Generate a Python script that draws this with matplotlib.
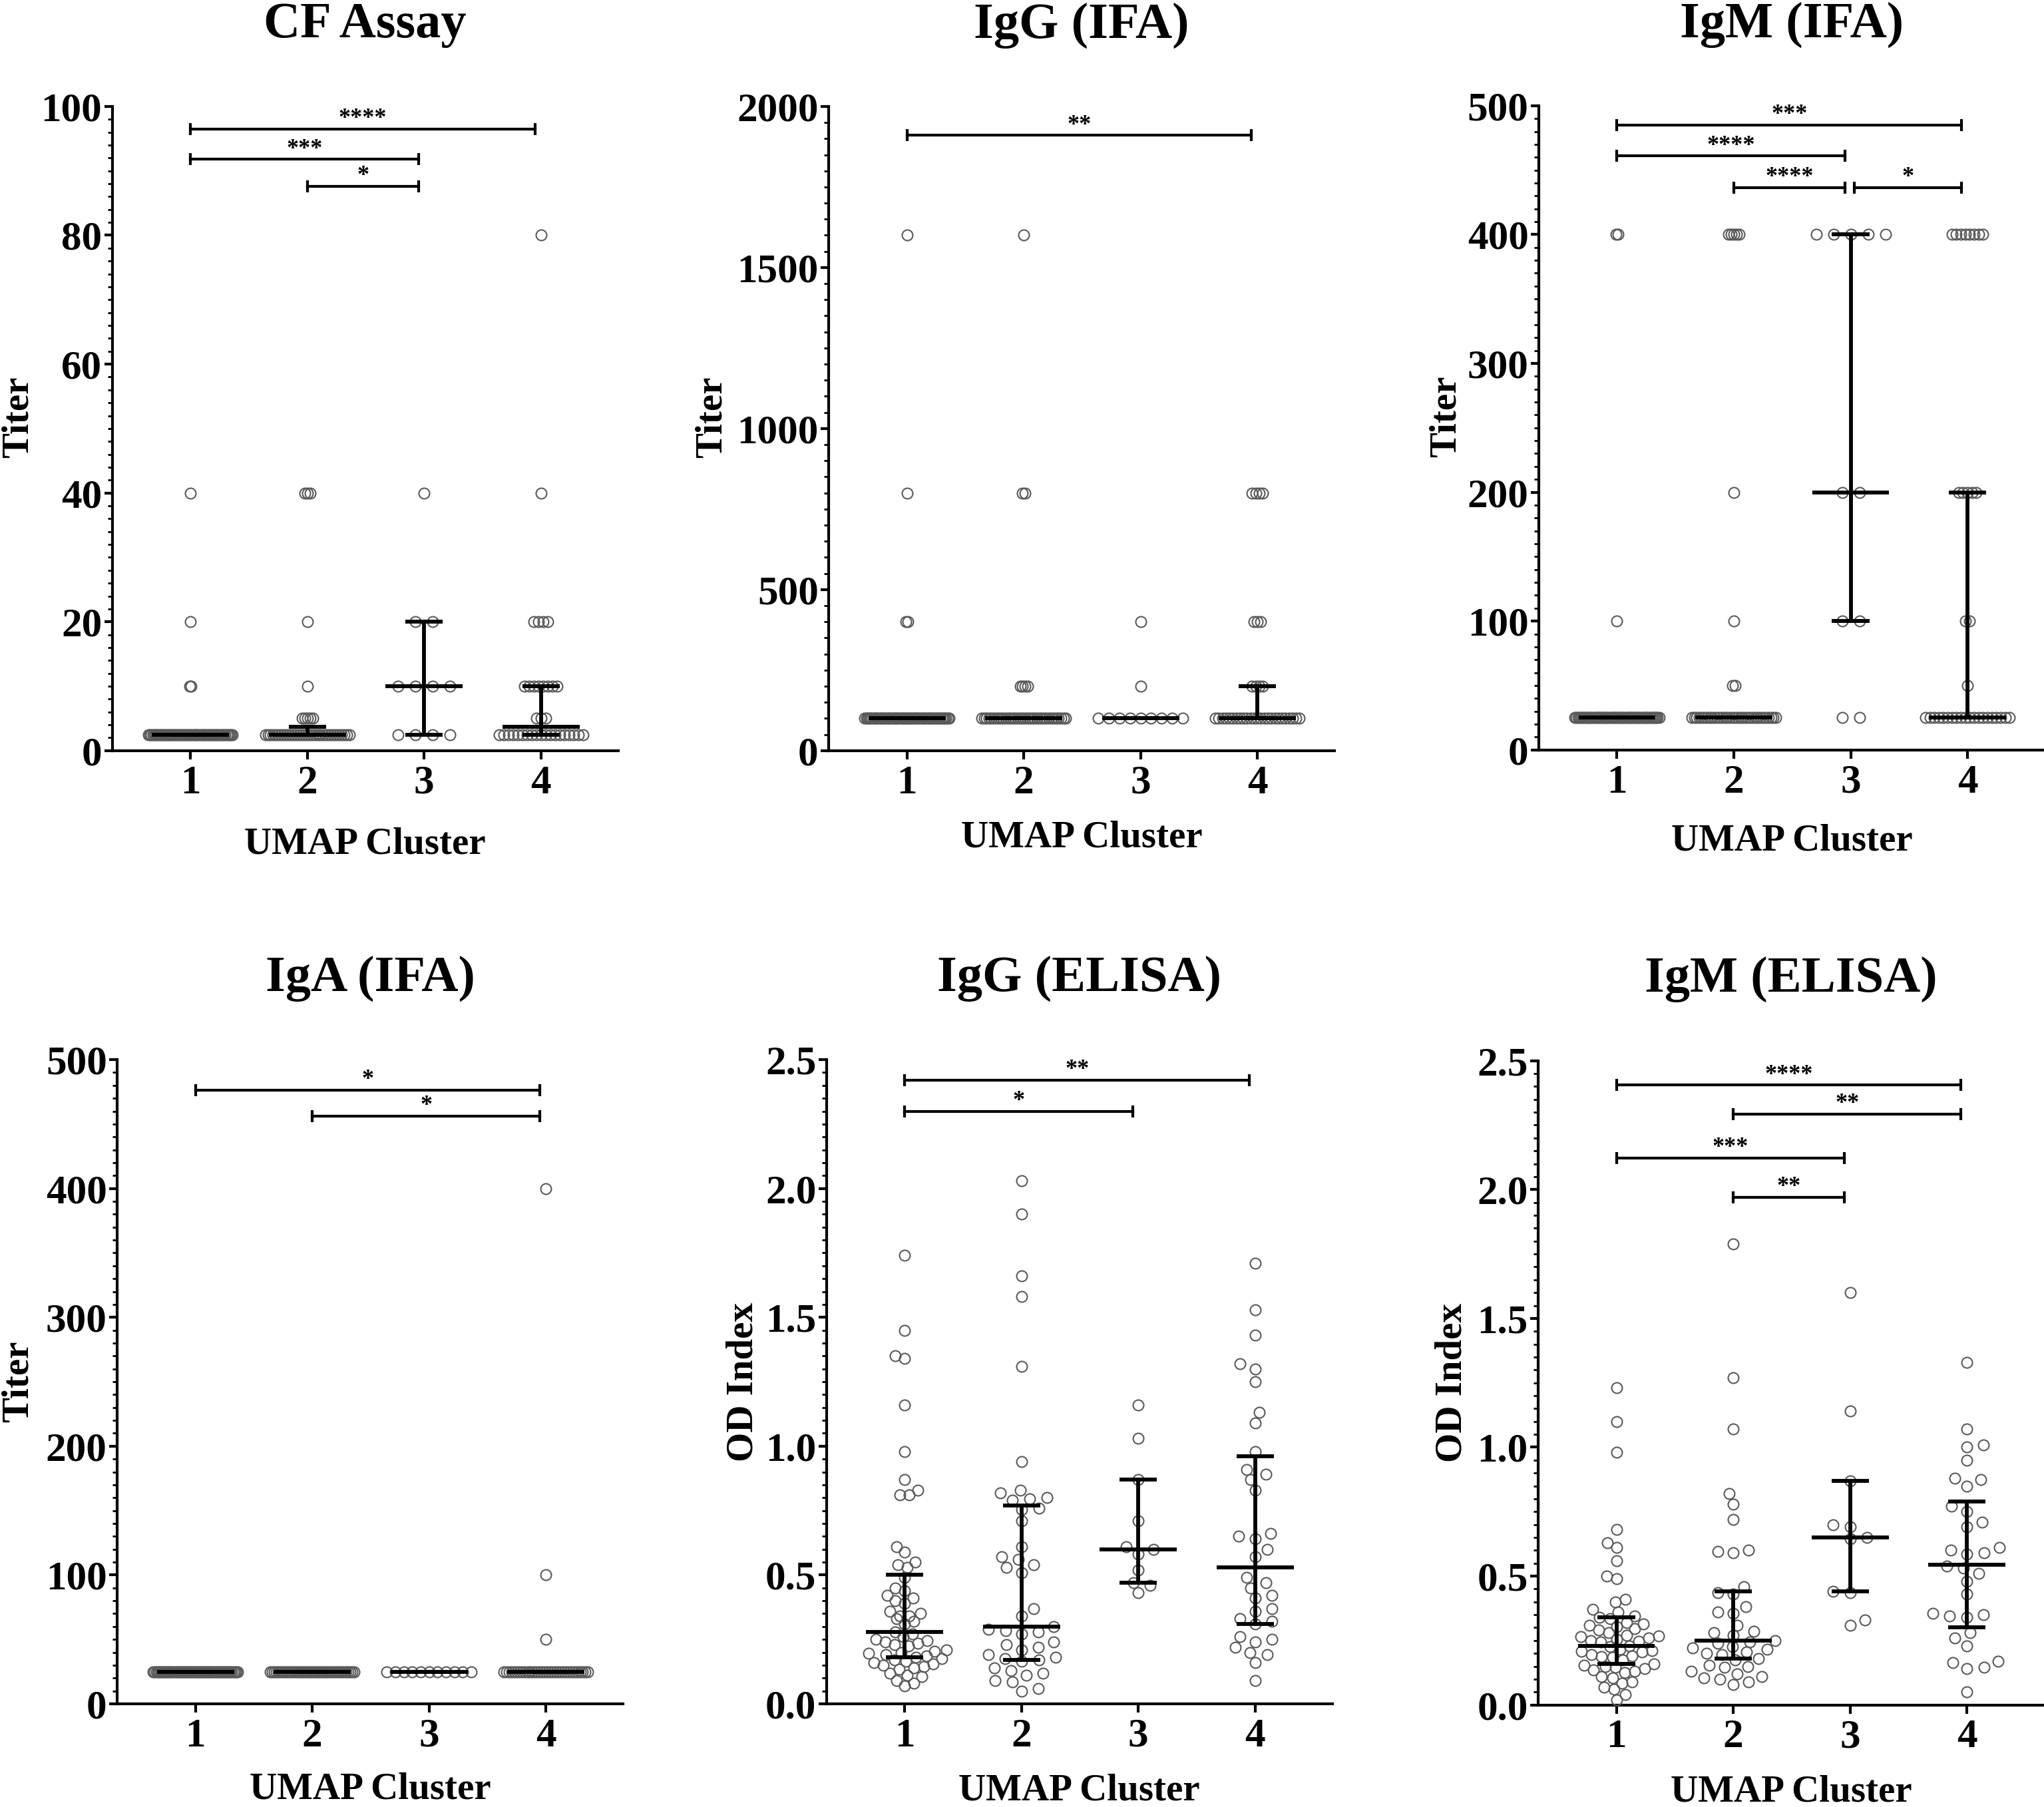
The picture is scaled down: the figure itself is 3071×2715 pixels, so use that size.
import numpy as np
import matplotlib
matplotlib.use("Agg")
import matplotlib.pyplot as plt
from matplotlib.ticker import MultipleLocator, AutoMinorLocator, FormatStrFormatter

plt.rcParams['font.family'] = ['Liberation Serif', 'DejaVu Serif']
plt.rcParams['font.weight'] = 'bold'

clusters = [1, 2, 3, 4]

# ---- CF assay (titer) ----
cf_c1 = [2.5] * 58 + [10, 10, 20, 40]
cf_c2 = [2.5] * 33 + [5] * 5 + [10, 20] + [40] * 3
cf_c3 = [2.5] * 4 + [10] * 4 + [20] * 2 + [40]
cf_c4 = [2.5] * 19 + [5] * 3 + [10] * 8 + [20] * 4 + [40, 80]
cf_median = [2.5, 2.5, 10, 3.75]
cf_q1 = [2.5, 2.5, 2.5, 2.5]
cf_q3 = [2.5, 3.75, 20, 10]
cf_sig = [(1, 4, "****", 96.5), (1, 3, "***", 91.8), (2, 3, "*", 87.6)]

# ---- IgG (IFA) ----
iggifa_c1 = [100] * 58 + [400, 400, 800, 1600]
iggifa_c2 = [100] * 36 + [200] * 4 + [800, 800, 1600]
iggifa_c3 = [100] * 9 + [200, 400]
iggifa_c4 = [100] * 25 + [200] * 4 + [400] * 3 + [800] * 4
iggifa_median = [100, 100, 100, 100]
iggifa_q1 = [100, 100, 100, 100]
iggifa_q3 = [100, 100, 100, 200]
iggifa_sig = [(1, 4, "**", 1910)]

# ---- IgM (IFA) ----
igmifa_c1 = [25] * 59 + [100, 400, 400]
igmifa_c2 = [25] * 34 + [50, 50, 100, 200] + [400] * 5
igmifa_c3 = [25, 25, 100, 100, 200, 200] + [400] * 5
igmifa_c4 = [25] * 20 + [50, 100, 100] + [200] * 5 + [400] * 8
igmifa_median = [25, 25, 200, 25]
igmifa_q1 = [25, 25, 100, 25]
igmifa_q3 = [25, 25, 400, 200]
igmifa_sig = [(1, 4, "***", 485), (1, 3, "****", 461), (2, 3, "****", 436.5), (3, 4, "*", 436.5)]

# ---- IgA (IFA) ----
igaifa_c1 = [25] * 62
igaifa_c2 = [25] * 43
igaifa_c3 = [25] * 11
igaifa_c4 = [25] * 33 + [50, 100, 400]
igaifa_median = [25, 25, 25, 25]
igaifa_q1 = [25, 25, 25, 25]
igaifa_q3 = [25, 25, 25, 25]
igaifa_sig = [(1, 4, "*", 476.5), (2, 4, "*", 456)]

# ---- IgG (ELISA) OD index ----
iggel_c1 = [1.74, 1.45, 1.35, 1.34, 1.16, 0.98, 0.87, 0.83, 0.81, 0.81,
            0.61, 0.59, 0.55, 0.54, 0.53, 0.49, 0.45, 0.44, 0.42, 0.41,
            0.40, 0.39, 0.36, 0.35, 0.34, 0.34, 0.33, 0.32, 0.31, 0.28,
            0.27, 0.26, 0.25, 0.245, 0.24, 0.235, 0.23, 0.225, 0.21, 0.205,
            0.20, 0.195, 0.19, 0.185, 0.18, 0.175, 0.17, 0.165, 0.16, 0.155,
            0.15, 0.145, 0.14, 0.135, 0.12, 0.11, 0.105, 0.09, 0.08, 0.07]
iggel_c2 = [2.03, 1.90, 1.66, 1.58, 1.31, 0.94, 0.82, 0.83, 0.80, 0.795,
            0.79, 0.76, 0.755, 0.71, 0.61, 0.57, 0.56, 0.54, 0.53, 0.51,
            0.37, 0.34, 0.30, 0.29, 0.285, 0.28, 0.27, 0.24, 0.23, 0.22,
            0.21, 0.19, 0.18, 0.175, 0.17, 0.165, 0.14, 0.13, 0.12, 0.11,
            0.09, 0.085, 0.06, 0.05]
iggel_c3 = [1.16, 1.03, 0.87, 0.71, 0.61, 0.60, 0.58, 0.52, 0.47, 0.46, 0.43]
iggel_c4 = [1.71, 1.53, 1.43, 1.32, 1.30, 1.25, 1.13, 1.09, 0.98, 0.91,
            0.89, 0.87, 0.83, 0.66, 0.65, 0.64, 0.60, 0.57, 0.49, 0.47,
            0.45, 0.42, 0.41, 0.37, 0.36, 0.33, 0.32, 0.31, 0.26, 0.25,
            0.24, 0.22, 0.20, 0.19, 0.16, 0.09]
iggel_median = [0.28, 0.30, 0.60, 0.53]
iggel_q1 = [0.18, 0.17, 0.47, 0.31]
iggel_q3 = [0.50, 0.77, 0.87, 0.96]
iggel_sig = [(1, 4, "**", 2.42), (1, 3, "*", 2.30)]

# ---- IgM (ELISA) OD index ----
igmel_c1 = [1.23, 1.10, 0.98, 0.68, 0.63, 0.61, 0.56, 0.50, 0.49, 0.41,
            0.40, 0.37, 0.36, 0.345, 0.34, 0.335, 0.32, 0.315, 0.31, 0.305,
            0.295, 0.29, 0.27, 0.268, 0.265, 0.26, 0.25, 0.248, 0.245, 0.23,
            0.225, 0.215, 0.21, 0.208, 0.205, 0.19, 0.188, 0.185, 0.175, 0.16,
            0.155, 0.15, 0.145, 0.135, 0.13, 0.125, 0.11, 0.105, 0.09, 0.085,
            0.07, 0.06, 0.04, 0.02, 0.28, 0.255, 0.195, 0.14]
igmel_c2 = [1.79, 1.27, 1.07, 0.82, 0.78, 0.72, 0.60, 0.595, 0.59, 0.46,
            0.435, 0.43, 0.38, 0.36, 0.355, 0.31, 0.285, 0.28, 0.27, 0.25,
            0.245, 0.24, 0.225, 0.22, 0.215, 0.205, 0.2, 0.195, 0.18, 0.175,
            0.155, 0.15, 0.145, 0.13, 0.12, 0.11, 0.105, 0.1, 0.09, 0.08]
igmel_c3 = [1.60, 1.14, 0.87, 0.70, 0.69, 0.65, 0.645, 0.44, 0.435, 0.33, 0.31]
igmel_c4 = [1.33, 1.07, 1.01, 1.00, 0.95, 0.88, 0.875, 0.85, 0.77, 0.75,
            0.71, 0.69, 0.61, 0.60, 0.59, 0.585, 0.54, 0.53, 0.51, 0.48,
            0.43, 0.355, 0.35, 0.345, 0.34, 0.28, 0.26, 0.23, 0.17, 0.165,
            0.145, 0.14, 0.05]
igmel_median = [0.23, 0.25, 0.65, 0.545]
igmel_q1 = [0.16, 0.18, 0.44, 0.30]
igmel_q3 = [0.34, 0.44, 0.87, 0.79]
igmel_sig = [(1, 4, "****", 2.405), (2, 4, "**", 2.292), (1, 3, "***", 2.123), (2, 3, "**", 1.971)]

panels = [
    dict(title="CF Assay", ylabel="Titer", data=[cf_c1, cf_c2, cf_c3, cf_c4],
         med=cf_median, q1=cf_q1, q3=cf_q3, sig=cf_sig, ymax=100, step=20, fmt="%d",
         rect=[0.0549, 0.5846, 0.2475, 0.3565], ylx=-0.151, yly=0.518, xly=-0.118),
    dict(title="IgG (IFA)", ylabel="Titer", data=[iggifa_c1, iggifa_c2, iggifa_c3, iggifa_c4],
         med=iggifa_median, q1=iggifa_q1, q3=iggifa_q3, sig=iggifa_sig, ymax=2000, step=500, fmt="%d",
         rect=[0.4054, 0.5846, 0.2475, 0.3565], ylx=-0.197, yly=0.518, xly=-0.108),
    dict(title="IgM (IFA)", ylabel="Titer", data=[igmifa_c1, igmifa_c2, igmifa_c3, igmifa_c4],
         med=igmifa_median, q1=igmifa_q1, q3=igmifa_q3, sig=igmifa_sig, ymax=500, step=100, fmt="%d",
         rect=[0.7528, 0.5850, 0.2475, 0.3565], ylx=-0.149, yly=0.518, xly=-0.114),
    dict(title="IgA (IFA)", ylabel="Titer", data=[igaifa_c1, igaifa_c2, igaifa_c3, igaifa_c4],
         med=igaifa_median, q1=igaifa_q1, q3=igaifa_q3, sig=igaifa_sig, ymax=500, step=100, fmt="%d",
         rect=[0.0573, 0.0571, 0.2475, 0.3565], ylx=-0.161, yly=0.5, xly=-0.106),
    dict(title="IgG (ELISA)", ylabel="OD Index", data=[iggel_c1, iggel_c2, iggel_c3, iggel_c4],
         med=iggel_median, q1=iggel_q1, q3=iggel_q3, sig=iggel_sig, ymax=2.5, step=0.5, fmt="%.1f",
         rect=[0.4043, 0.0571, 0.2475, 0.3565], ylx=-0.130, yly=0.5, xly=-0.108),
    dict(title="IgM (ELISA)", ylabel="OD Index", data=[igmel_c1, igmel_c2, igmel_c3, igmel_c4],
         med=igmel_median, q1=igmel_q1, q3=igmel_q3, sig=igmel_sig, ymax=2.5, step=0.5, fmt="%.1f",
         rect=[0.7525, 0.0565, 0.2475, 0.3565], ylx=-0.136, yly=0.5, xly=-0.108),
]


def swarm_x(ax, x0, vals, sx=26.0, sy=16.0, limit=0.36):
    # GraphPad-like column scatter: ties in centred rows, others packed, then squeezed
    vals = np.asarray(vals, float)
    cat_px = ax.transData.transform((x0 + 1, 0))[0] - ax.transData.transform((x0, 0))[0]
    ypx = ax.transData.transform(np.column_stack([np.full(len(vals), x0), vals]))[:, 1]
    offs = np.zeros(len(vals))
    px_list, py_list = [], []
    for v in np.unique(vals):
        idx = np.where(vals == v)[0]
        y = ypx[idx[0]]
        if len(idx) > 1:
            row = list((np.arange(len(idx)) - (len(idx) - 1) / 2) * sx)
        else:
            cands = [0.0]
            for px, py in zip(px_list, py_list):
                dy = abs(py - y)
                if dy < sy:
                    w = sx * np.sqrt(1 - (dy / sy) ** 2)
                    cands += [px - w, px + w]
            ok = [c for c in cands
                  if all(((c - px) / sx) ** 2 + ((py - y) / sy) ** 2 >= 0.999
                         for px, py in zip(px_list, py_list))]
            right = sum(1 for px in px_list if px > 0.5)
            left = sum(1 for px in px_list if px < -0.5)
            best = min(ok, key=lambda c: (round(abs(c), 2), (c > 0) if right > left else (c < 0)))
            row = [best]
        offs[idx] = row
        px_list += row
        py_list += [y] * len(row)
    m = np.abs(offs).max()
    if m > limit * cat_px:
        offs *= limit * cat_px / m
    return x0 + offs / cat_px


fig = plt.figure(figsize=(30.71, 27.15), dpi=100)

for p in panels:
    ax = fig.add_axes(p["rect"])
    ax.set_xlim(0.33, 4.66)
    ax.set_ylim(0, p["ymax"])

    for c, vals in zip(clusters, p["data"]):
        xs = swarm_x(ax, c, vals)
        ax.plot(xs, vals, ls="none", marker="o", ms=11.5, mfc="none", mec="#5a5a5a",
                mew=1.5, zorder=3, clip_on=False)

    cl = np.array(clusters, float)
    ax.hlines(p["med"], cl - 0.33, cl + 0.33, color="black", lw=4.2, zorder=4)
    ax.hlines(p["q1"], cl - 0.16, cl + 0.16, color="black", lw=4.2, zorder=4)
    ax.hlines(p["q3"], cl - 0.16, cl + 0.16, color="black", lw=4.2, zorder=4)
    ax.vlines(cl, p["q1"], p["q3"], color="black", lw=4.2, zorder=4)

    for a, b, stars, y in p["sig"]:
        x1 = a + (0.03 if a == 3 else 0.0)
        x2 = b - 0.05
        ax.plot([x1, x2], [y, y], color="black", lw=3, zorder=5, clip_on=False)
        ax.plot([x1, x2], [y, y], ls="none", marker="|", ms=13, mew=3, color="black",
                zorder=5, clip_on=False)
        ax.annotate(stars, ((x1 + x2) / 2, y), xytext=(0, 11), textcoords="offset points",
                    ha="center", va="center", fontsize=26, fontweight="bold")

    for s in ["top", "right"]:
        ax.spines[s].set_visible(False)
    for s in ["left", "bottom"]:
        ax.spines[s].set_linewidth(3)

    ax.set_xticks(clusters)
    ax.set_xticklabels([str(c) for c in clusters])
    ax.yaxis.set_major_locator(MultipleLocator(p["step"]))
    ax.yaxis.set_minor_locator(AutoMinorLocator(10))
    ax.yaxis.set_major_formatter(FormatStrFormatter(p["fmt"]))
    ax.tick_params(axis="both", which="major", length=9, width=3, labelsize=44, direction="out")
    ax.tick_params(axis="y", which="major", pad=2)
    ax.tick_params(axis="x", which="major", pad=6)
    ax.tick_params(axis="y", which="minor", length=5, width=2, direction="out")
    for lab in ax.get_xticklabels() + ax.get_yticklabels():
        lab.set_fontweight("bold")

    ax.set_ylabel(p["ylabel"], fontsize=41, fontweight="bold")
    ax.yaxis.set_label_coords(p["ylx"], p["yly"])
    ax.set_xlabel("UMAP Cluster", fontsize=41, fontweight="bold")
    ax.xaxis.set_label_coords(0.5, p["xly"])
    ax.text(0.5, 1.107, p["title"], transform=ax.transAxes, ha="center", va="baseline",
            fontsize=55, fontweight="bold")

fig.savefig("out.png", dpi=100, facecolor="white")
